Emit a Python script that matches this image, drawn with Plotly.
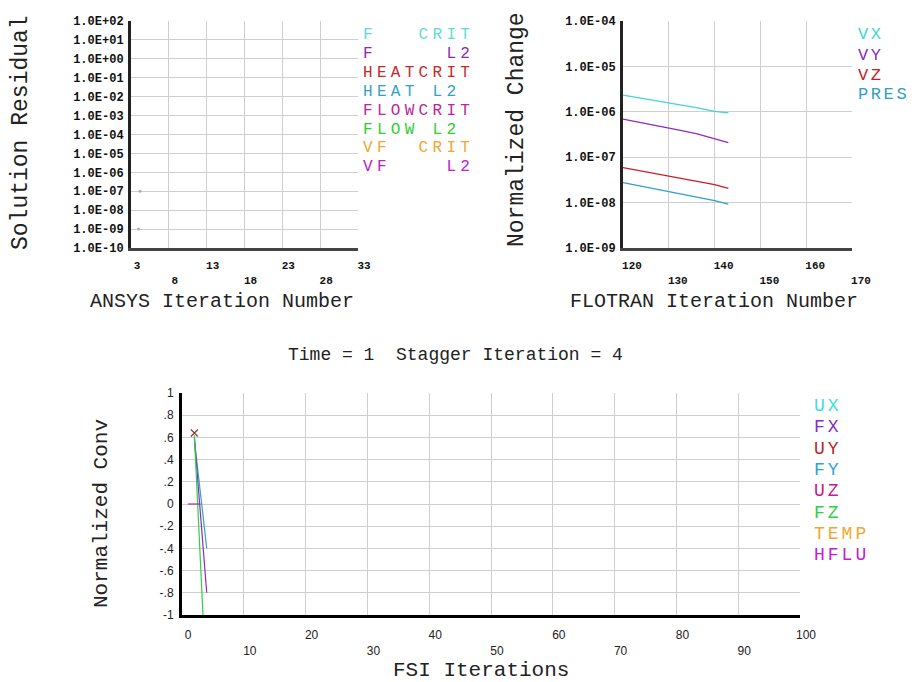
import plotly.graph_objects as go

W, H = 912, 682

# ---------------- data ----------------
# Top-left: Solution Residual vs ANSYS iteration (only a couple of faint specks visible)
ansys_iter = [4.2, 4.0]
ansys_resid = [1.0e-7, 1.0e-9]
ansys_xticks = [3, 8, 13, 18, 23, 28, 33]
ansys_yexp = list(range(2, -11, -1))
left_legend = ["F   CRIT", "F     L2", "HEATCRIT", "HEAT L2", "FLOWCRIT", "FLOW L2", "VF  CRIT", "VF    L2"]
left_colors = ["#5EDCDC", "#8A2BB8", "#C42A2A", "#34A0C8", "#C0239C", "#2ED02E", "#F2A634", "#B424CC"]

# Top-right: Normalized Change vs FLOTRAN iteration
flo_iter = [120, 124, 128, 132, 136, 140, 143]
vx = [2.34e-6, 2.0e-6, 1.70e-6, 1.41e-6, 1.23e-6, 1.02e-6, 9.5e-7]
vy = [6.9e-7, 5.8e-7, 4.8e-7, 4.0e-7, 3.3e-7, 2.6e-7, 2.1e-7]
vz = [5.9e-8, 5.0e-8, 4.2e-8, 3.6e-8, 3.0e-8, 2.5e-8, 2.05e-8]
pres = [2.75e-8, 2.3e-8, 1.9e-8, 1.6e-8, 1.3e-8, 1.1e-8, 9.3e-9]
flo_names = ["VX", "VY", "VZ", "PRES"]
flo_colors = ["#3ED6D6", "#8E2BC0", "#C81E28", "#2EA0C8"]
flo_xticks = [120, 130, 140, 150, 160, 170]
flo_yexp = [-4, -5, -6, -7, -8, -9]

# Bottom: Normalized Conv vs FSI iterations
fsi_names = ["UX", "FX", "UY", "FY", "UZ", "FZ", "TEMP", "HFLU"]
fsi_colors = ["#3EDCDC", "#8A2BC0", "#B82828", "#30A2CC", "#C02088", "#30D040", "#F2A830", "#C020D0"]
fx_x, fx_y = [2, 4], [0.60, -0.80]
fy_x, fy_y = [2, 4], [0.58, -0.40]
fz_x, fz_y = [2, 4], [0.62, -1.70]
uz_x, uz_y = [1, 3], [0.0, 0.0]
uy_x, uy_y = [2], [0.64]
fsi_xticks = list(range(0, 101, 10))
fsi_yticks = [1, 0.8, 0.6, 0.4, 0.2, 0, -0.2, -0.4, -0.6, -0.8, -1]
fsi_yticktext = ["1", ".8", ".6", ".4", ".2", "0", "-.2", "-.4", "-.6", "-.8", "-1"]

title_text = "Time = 1  Stagger Iteration = 4"

# ---------------- helpers ----------------
def px(x):
    return x / W

def py(y):
    return 1 - y / H

MONO = "Liberation Mono, Courier New, monospace"
GRID = "#cfcfcf"

def alt_text(vals):
    out = []
    for i, v in enumerate(vals):
        out.append(str(v) if i % 2 == 0 else "<br>" + str(v))
    return out

def exp_label(e):
    return "1.0E%s%02d" % ("+" if e >= 0 else "-", abs(e))

fig = go.Figure()

# top-left traces
fig.add_trace(go.Scatter(x=ansys_iter, y=ansys_resid, mode="markers",
                         marker=dict(size=3, color="#b0b0b0"), xaxis="x", yaxis="y",
                         showlegend=False))

# top-right traces
for name, vals, col in zip(flo_names, [vx, vy, vz, pres], flo_colors):
    fig.add_trace(go.Scatter(x=flo_iter, y=vals, mode="lines", name=name,
                             line=dict(color=col, width=1.3), xaxis="x2", yaxis="y2",
                             showlegend=False))

# bottom traces
fig.add_trace(go.Scatter(x=fy_x, y=fy_y, mode="lines", line=dict(color=fsi_colors[3], width=1.2),
                         xaxis="x3", yaxis="y3", showlegend=False, name="FY"))
fig.add_trace(go.Scatter(x=fx_x, y=fx_y, mode="lines", line=dict(color=fsi_colors[1], width=1.2),
                         xaxis="x3", yaxis="y3", showlegend=False, name="FX"))
fig.add_trace(go.Scatter(x=fz_x, y=fz_y, mode="lines", line=dict(color=fsi_colors[5], width=1.2),
                         xaxis="x3", yaxis="y3", showlegend=False, name="FZ"))
fig.add_trace(go.Scatter(x=uz_x, y=uz_y, mode="lines", line=dict(color=fsi_colors[4], width=1.2),
                         xaxis="x3", yaxis="y3", showlegend=False, name="UZ"))
fig.add_trace(go.Scatter(x=uy_x, y=uy_y, mode="markers",
                         marker=dict(symbol="x-thin", size=7, line=dict(color="#8a3a3a", width=1.2)),
                         xaxis="x3", yaxis="y3", showlegend=False, name="UY"))

tick_font_small = dict(family="Liberation Mono, monospace", size=11, color="#111", weight="bold")
tick_font_ylab = dict(family="Liberation Mono, monospace", size=12, color="#111", weight="bold")
tick_font_bottom = dict(family="Liberation Sans, Arial, sans-serif", size=12, color="#222")
axis_common = dict(showgrid=True, gridcolor=GRID, gridwidth=1, zeroline=False,
                   ticks="", fixedrange=True, automargin=False)

fig.update_layout(
    width=W, height=H, autosize=False,
    margin=dict(l=0, r=0, t=0, b=0, pad=0),
    paper_bgcolor="white", plot_bgcolor="white",
    xaxis=dict(domain=[px(131), px(358)], anchor="y", range=[3, 33],
               tickvals=ansys_xticks, ticktext=alt_text(ansys_xticks),
               tickfont=tick_font_small, ticklabelstandoff=5, ticklabelshift=6,
               showline=True, linecolor="#444", linewidth=3, **axis_common),
    yaxis=dict(domain=[py(248), py(21)], anchor="x", type="log", range=[-10, 2],
               tickvals=[10.0 ** e for e in ansys_yexp],
               ticktext=[exp_label(e) for e in ansys_yexp],
               tickfont=tick_font_ylab, ticklabelstandoff=2,
               showline=True, linecolor="#222", linewidth=3, **axis_common),
    xaxis2=dict(domain=[px(623), px(852)], anchor="y2", range=[120, 170],
                tickvals=flo_xticks, ticktext=alt_text(flo_xticks),
                tickfont=tick_font_small, ticklabelstandoff=5, ticklabelshift=9,
                showline=True, linecolor="#444", linewidth=3, **axis_common),
    yaxis2=dict(domain=[py(248), py(21)], anchor="x2", type="log", range=[-9, -4],
                tickvals=[10.0 ** e for e in flo_yexp],
                ticktext=[exp_label(e) for e in flo_yexp],
                tickfont=tick_font_ylab, ticklabelstandoff=2,
                showline=True, linecolor="#222", linewidth=3, **axis_common),
    xaxis3=dict(domain=[px(182), px(800)], anchor="y3", range=[0, 100],
                tickvals=fsi_xticks, ticktext=alt_text(fsi_xticks),
                tickfont=tick_font_bottom,
                ticklabelstandoff=7, ticklabelshift=6,
                showline=True, linecolor="#000", linewidth=3, **axis_common),
    yaxis3=dict(domain=[py(615), py(393)], anchor="x3", range=[-1, 1],
                tickvals=fsi_yticks, ticktext=fsi_yticktext,
                tickfont=tick_font_bottom,
                ticklabelstandoff=3,
                showline=True, linecolor="#000", linewidth=3, **axis_common),
)

ann = []
def text(x, y, s, size, color="#222", angle=0, xanchor="center", yanchor="middle"):
    ann.append(dict(x=px(x), y=py(y), xref="paper", yref="paper", text=s, showarrow=False,
                    font=dict(family=MONO, size=size, color=color), textangle=angle,
                    xanchor=xanchor, yanchor=yanchor, borderpad=0))

def spaced(s, ls):
    return '<span style="letter-spacing:%.1fpx">%s</span>' % (ls, s.replace(" ", "&nbsp;"))

# axis titles
text(21, 133, "Solution Residual", 23, angle=-90)
text(222, 301, "ANSYS Iteration Number", 20)
text(517, 130, "Normalized Change", 23, angle=-90)
text(714, 301, "FLOTRAN Iteration Number", 20)
text(455, 355, title_text, 18)
text(101, 514, "Normalized Conv", 21, angle=-90)
text(481, 670, "FSI Iterations", 21)

# legends
for i, (s, c) in enumerate(zip(left_legend, left_colors)):
    text(362, 35 + i * 18.9, spaced(s, 4.3), 16, color=c, xanchor="left")
for i, (s, c) in enumerate(zip(flo_names, flo_colors)):
    text(857, 35 + i * 20, spaced(s, 2.6), 17, color=c, xanchor="left")
for i, (s, c) in enumerate(zip(fsi_names, fsi_colors)):
    text(813, 406 + i * 21.3, spaced(s, 3.0), 18, color=c, xanchor="left")

fig.update_layout(annotations=ann)

post = ("document.body.style.margin='0';document.body.style.padding='0';"
        "document.body.style.overflow='hidden';"
        "var gd=document.getElementById('{plot_id}');"
        "Plotly.relayout(gd,{width:912,height:682});")

fig.write_html("out.html", config={"responsive": False}, post_script=post)
